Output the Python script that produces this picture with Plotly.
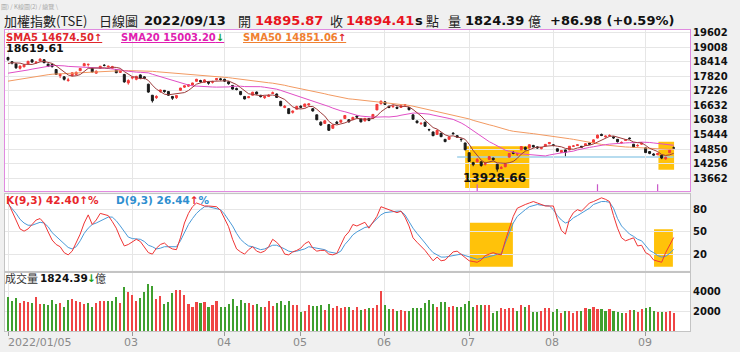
import numpy as np
import pandas as pd
import plotly.graph_objects as go

W, H = 740, 352

# ---------------- data ----------------
holidays_2022 = ["2022-01-27", "2022-01-28", "2022-01-31", "2022-02-01", "2022-02-02",
                 "2022-02-03", "2022-02-04", "2022-02-28", "2022-04-04", "2022-04-05",
                 "2022-05-02", "2022-06-03", "2022-09-09"]
tick_months = [1, 3, 4, 5, 6, 7, 8, 9]

# closes before 2022/01/05 (for moving averages)
history_close = [16900, 16987, 17000, 16930, 16999, 17100, 16990, 17050, 17100, 17180,
                 17300, 17420, 17510, 17550, 17600, 17650, 17800, 17700, 17600, 17700,
                 17800, 17450, 17370, 17430, 17540, 17600, 17720, 17690, 17750, 17800,
                 17910, 17780, 17750, 17760, 17680, 17720, 17780, 17860, 17800, 17760,
                 17700, 17780, 17900, 18000, 18100, 18200, 18220, 18270, 18526]

open_ = [18590, 18420, 18330, 18150, 18210, 18330, 18500, 18380, 18450, 18500,
         18320, 18300, 18100, 17850, 17800, 17650, 17850, 17900, 18050, 18250,
         18300, 18150, 17950, 18150, 18270, 18200, 18150, 18100, 17980, 17900,
         17550, 17750, 17700, 17880, 17800, 17500, 17050, 16950, 17200, 17250,
         17200, 17000, 16950, 17250, 17380, 17420, 17470, 17620, 17650, 17580,
         17600, 17580, 17680, 17720, 17700, 17600, 17450, 17320, 17200, 17000,
         16950, 17050, 17180, 17050, 16950, 17000, 17120, 17100, 16800, 16550,
         16500, 16350, 16480, 16600, 16580, 16650, 16500, 16250, 15950, 15900,
         15850, 15700, 15950, 15950, 16100, 16050, 16050, 16200, 16080, 16000,
         16100, 16100, 16450, 16700, 16780, 16600, 16580, 16560, 16550, 16640,
         16550, 16250, 16000, 15880, 15950, 15650, 15550, 15450, 15500, 15250,
         15250, 15500, 15400, 15250, 15100, 14700, 14300, 14330, 14330, 14230,
         14430, 14480, 14230, 14060, 14130, 14520, 14720, 14640, 14820, 14920,
         14900, 15000, 14940, 14870, 14970, 15070, 15025, 14865, 14715, 14815,
         14815, 14965, 14995, 14965, 14995, 15095, 15115, 15300, 15450, 15350,
         15400, 15350, 15250, 15100, 15200, 15300, 15050, 14980, 15050, 14900,
         14750, 14650, 14620, 14600, 14450, 14700, 14895.87]

high = [18619.61, 18440, 18350, 18270, 18310, 18450, 18510, 18430, 18560, 18520,
        18340, 18330, 18120, 17950, 17830, 17760, 17990, 18020, 18160, 18370,
        18340, 18170, 18060, 18250, 18320, 18260, 18250, 18110, 18100, 17920,
        17700, 17820, 17840, 17900, 17820, 17520, 17060, 17050, 17280, 17260,
        17210, 17020, 17060, 17350, 17450, 17500, 17560, 17720, 17680, 17700,
        17620, 17640, 17750, 17760, 17720, 17610, 17460, 17360, 17210, 17020,
        17020, 17190, 17200, 17060, 17030, 17090, 17200, 17120, 16820, 16650,
        16520, 16430, 16620, 16640, 16700, 16720, 16520, 16260, 15980, 16030,
        15870, 15850, 16000, 16050, 16240, 16060, 16170, 16230, 16090, 16120,
        16110, 16280, 16690, 16830, 16800, 16620, 16640, 16580, 16640, 16690,
        16560, 16260, 16010, 15950, 15960, 15680, 15560, 15630, 15510, 15260,
        15360, 15540, 15410, 15290, 15110, 14720, 14330, 14480, 14340, 14330,
        14560, 14500, 14240, 14160, 14270, 14680, 14760, 14690, 14970, 14950,
        15040, 15020, 14960, 14940, 15060, 15140, 15055, 14875, 14815, 14825,
        14975, 15015, 15045, 14975, 15085, 15115, 15245, 15440, 15480, 15400,
        15450, 15360, 15260, 15160, 15260, 15320, 15060, 15050, 15120, 14920,
        14760, 14680, 14700, 14610, 14540, 14820, 14950]

low = [18460, 18310, 18130, 18100, 18190, 18320, 18380, 18330, 18440, 18360,
       18200, 18180, 17880, 17750, 17650, 17600, 17820, 17880, 18040, 18240,
       18220, 17980, 17930, 18140, 18230, 18180, 18130, 17950, 17970, 17560,
       17480, 17700, 17660, 17720, 17700, 17150, 16750, 16900, 17150, 17150,
       17020, 16860, 16900, 17230, 17350, 17390, 17450, 17600, 17560, 17560,
       17480, 17530, 17660, 17650, 17590, 17480, 17280, 17250, 17050, 16880,
       16930, 17040, 17080, 16960, 16900, 16980, 17100, 16940, 16600, 16520,
       16280, 16300, 16470, 16520, 16570, 16620, 16380, 16030, 15800, 15880,
       15600, 15680, 15880, 15930, 16080, 15930, 16040, 16130, 15940, 15980,
       15990, 16090, 16440, 16680, 16650, 16520, 16540, 16480, 16530, 16600,
       16430, 16050, 15900, 15850, 15760, 15580, 15380, 15440, 15340, 15130,
       15230, 15440, 15320, 15150, 14800, 14320, 14150, 14310, 14130, 14180,
       14420, 14380, 13928.66, 14030, 14110, 14510, 14640, 14570, 14810, 14800,
       14880, 14910, 14860, 14840, 14950, 15050, 14965, 14735, 14695, 14560,
       14805, 14935, 14975, 14895, 14985, 15025, 15105, 15290, 15380, 15320,
       15360, 15270, 15120, 15080, 15180, 15240, 14900, 14950, 15030, 14690,
       14640, 14580, 14600, 14440, 14420, 14690, 14850]

close = [18500, 18368, 18170, 18239, 18288, 18437, 18403, 18403, 18525, 18378,
         18228, 18218, 17900, 17900, 17701, 17674, 17966, 17983, 18144, 18338,
         18310, 17997, 18030, 18231, 18268, 18232, 18221, 17969, 18055, 17594,
         17652, 17780, 17820, 17750, 17736, 17178, 16825, 17000, 17264, 17200,
         17050, 16926, 17036, 17343, 17434, 17480, 17550, 17700, 17600, 17676,
         17540, 17600, 17730, 17693, 17625, 17520, 17301, 17284, 17076, 16898,
         16986, 17171, 17100, 16993, 16993, 17050, 17150, 16960, 16620, 16600,
         16300, 16400, 16592, 16560, 16692, 16696, 16408, 16048, 15832, 16006,
         15616, 15832, 15901, 16027, 16223, 15963, 16144, 16156, 15963, 16104,
         16020, 16266, 16675, 16807, 16675, 16552, 16605, 16512, 16621, 16670,
         16460, 16070, 15927, 15900, 15782, 15641, 15397, 15616, 15357, 15157,
         15350, 15480, 15338, 15240, 14825, 14343, 14217, 14429, 14181, 14254,
         14544, 14420, 14030, 14094, 14251, 14671, 14680, 14670, 14954, 14839,
         15029, 14940, 14899, 14920, 15041, 15120, 14996, 14762, 14792, 14717,
         14965, 14978, 15024, 14924, 15068, 15052, 15227, 15420, 15409, 15380,
         15408, 15310, 15150, 15122, 15230, 15278, 14930, 15000, 15095, 14706,
         14673, 14606, 14675, 14483, 14512, 14807.43, 14894.41]

volume = [3470, 3070, 3340, 2810, 3070, 2970, 2840, 3470, 2740, 2740,
          2670, 3170, 2740, 2810, 2410, 3170, 3240, 3070, 2910, 2740,
          2810, 2470, 2810, 3070, 3070, 3040, 3040, 3470, 2810, 4470,
          4000, 3670, 3070, 3340, 4000, 4740, 4570, 3240, 3570, 2740,
          2970, 3870, 4140, 4140, 3670, 2740, 2470, 2910, 2810, 2970,
          2470, 2670, 3070, 2410, 2410, 2740, 3240, 2570, 3140, 2870,
          2810, 2670, 2740, 2410, 2410, 3010, 2540, 2870, 3070, 2640,
          3070, 2640, 2640, 1910, 2070, 2640, 2540, 2540, 2670, 2170,
          2740, 2340, 2510, 2340, 2470, 2470, 2140, 2410, 2170, 2270,
          2340, 2340, 2670, 4070, 2670, 2240, 2240, 2010, 2170, 2010,
          2010, 2370, 2370, 2310, 2840, 3170, 2770, 2470, 2910, 2910,
          2410, 2540, 2470, 2470, 2710, 3070, 2470, 2640, 2610, 2640,
          2640, 1840, 2070, 2310, 2210, 2340, 2340, 2010, 2670, 2470,
          2670, 1910, 1910, 2010, 2310, 2310, 1910, 2240, 1840, 2010,
          2070, 1840, 2010, 2070, 2310, 2210, 2410, 2210, 2240, 2010,
          2270, 2070, 1910, 1810, 1840, 2140, 2140, 1910, 2240, 2340,
          2410, 2010, 1910, 1910, 1910, 2010, 1824.39]

k_line = [90, 78, 64, 54, 51, 54, 60, 66, 68, 62,
          50, 39, 33, 30, 22, 19, 24, 35, 47, 62,
          73, 60, 66, 75, 74, 72, 64, 55, 42, 31,
          33, 36, 40, 37, 30, 22, 20, 28, 33, 35,
          30, 27, 26, 42, 62, 75, 84, 89, 87, 85,
          85, 84, 84, 79, 68, 57, 40, 27, 23, 20,
          26, 30, 24, 22, 24, 30, 40, 36, 30, 20,
          19, 23, 25, 28, 34, 37, 28, 24, 25, 25,
          20, 19, 21, 32, 44, 50, 60, 58, 60, 63,
          55, 63, 71, 84, 82, 80, 77, 76, 78, 70,
          58, 42, 36, 31, 25, 18, 11, 16, 11, 12,
          18, 23, 24, 20, 15, 11, 10, 9, 12, 18,
          20, 22, 20, 19, 38, 55, 71, 82, 85, 87,
          89, 91, 89, 87, 85, 85, 85, 67, 52, 47,
          67, 76, 80, 78, 84, 89, 91, 94, 96, 94,
          91, 72, 55, 42, 38, 40, 42, 31, 32, 22,
          19, 12, 10, 9, 22, 32, 42.40]

d_line = [88, 82, 75, 67, 62, 59, 59, 61, 63, 62,
          57, 49, 44, 38, 33, 29, 27, 30, 38, 48,
          55, 60, 62, 65, 68, 70, 70, 65, 58, 50,
          43, 41, 40, 40, 37, 32, 30, 27, 28, 30,
          30, 30, 30, 38, 50, 60, 68, 75, 80, 84,
          84, 83, 82, 80, 74, 66, 58, 48, 40, 35,
          31, 30, 28, 26, 27, 29, 32, 32, 30, 27,
          24, 23, 24, 25, 27, 30, 29, 28, 27, 26,
          23, 22, 21, 24, 33, 39, 46, 50, 53, 56,
          57, 62, 67, 73, 76, 77, 78, 78, 78, 73,
          64, 55, 48, 42, 35, 28, 22, 19, 16, 16,
          17, 18, 19, 20, 18, 16, 15, 13, 14, 15,
          17, 18, 20, 20, 35, 48, 62, 71, 76, 80,
          84, 85, 87, 86, 86, 85, 80, 72, 66, 62,
          64, 69, 72, 75, 78, 82, 87, 89, 91, 91,
          90, 82, 68, 58, 52, 47, 44, 40, 38, 32,
          25, 22, 18, 16, 17, 21, 26.44]

event_idx = [117, 147, 162]
support_level = 14524
support_from = 112
main_ticks = [13662, 14256, 14850, 15444, 16038, 16632, 17226, 17820, 18414, 19008, 19602]
kd_ticks = [20, 50, 80]
vol_ticks = [2000, 4000]
# highlight rectangles (x0, x1, y0, y1) in data units, per panel
main_boxes = [(114.0, 130.0, 13265, 14966), (162.2, 166.1, 14002, 15148)]
kd_boxes = [(115.2, 125.9, 3.0, 62.3), (161.1, 165.8, 3.0, 53.5)]

# ---------------- derived ----------------
n = len(close)
for arr in (open_, high, low, volume, k_line, d_line):
    assert len(arr) == n
dates = pd.bdate_range("2022-01-05", "2022-09-13", freq="C", holidays=holidays_2022)
assert len(dates) == n
xi = np.arange(n)
month_start = [i for i in range(n) if i == 0 or dates[i].month != dates[i - 1].month]
tick_idx = [i for i in month_start if dates[i].month in tick_months]
tick_txt = [dates[i].strftime("%Y/%m/%d") if i == 0 else dates[i].strftime("%m") for i in tick_idx]

full_close = pd.Series(history_close + close, dtype=float)
off = len(history_close)
sma5 = full_close.rolling(5).mean().to_numpy()[off:]
sma20 = full_close.rolling(20).mean().to_numpy()[off:]
sma50 = full_close.rolling(50).mean().to_numpy()[off:]
prev_close = full_close.shift(1).to_numpy()[off:]

C_UP = "#f23a3a"
C_DN = "#1a1a1a"
V_UP = "#ef4545"
V_DN = "#3f9f2f"
vol_colors = [V_UP if c >= p else V_DN for c, p in zip(close, prev_close)]

LATIN = "DejaVu Sans"
CJK = "Noto Sans CJK TC"
PINK = "#e08ae0"
GRAYLINE = "#c4c4c4"
GRID = "#e6e6e6"


def fx(p):
    return p / W


def fy(p):
    return 1 - p / H


X_DOM = [fx(5), fx(690)]
X_RANGE = [-0.75, 170.07]
MAIN_RANGE = [13123, 19723]
KD_RANGE = [-2.4, 100.7]
VOL_RANGE = [-30, 5870]

fig = go.Figure()
fig.add_trace(go.Candlestick(
    x=xi, open=open_, high=high, low=low, close=close,
    increasing=dict(line=dict(color=C_UP, width=1), fillcolor=C_UP),
    decreasing=dict(line=dict(color=C_DN, width=1), fillcolor=C_DN),
    whiskerwidth=0, xaxis="x", yaxis="y", hoverinfo="skip"))
for vals, col in ((sma50, "#f29a62"), (sma20, "#e04fc6"), (sma5, "#9c3c3c")):
    fig.add_trace(go.Scatter(x=xi, y=vals, mode="lines", line=dict(color=col, width=1),
                             xaxis="x", yaxis="y", hoverinfo="skip"))
fig.add_trace(go.Scatter(x=event_idx, y=[MAIN_RANGE[0] + 90] * len(event_idx), mode="markers",
                         marker=dict(symbol="line-ns-open", size=7, color="#c858c8",
                                     line=dict(width=1.2, color="#c858c8")),
                         xaxis="x", yaxis="y", hoverinfo="skip"))

fig.add_trace(go.Scatter(x=xi, y=d_line, mode="lines", line=dict(color="#4a9ad8", width=1),
                         xaxis="x2", yaxis="y2", hoverinfo="skip"))
fig.add_trace(go.Scatter(x=xi, y=k_line, mode="lines", line=dict(color="#ef3535", width=1),
                         xaxis="x2", yaxis="y2", hoverinfo="skip"))

fig.add_trace(go.Bar(x=xi, y=volume, marker=dict(color=vol_colors, line=dict(width=0)),
                     width=0.52, xaxis="x3", yaxis="y3", hoverinfo="skip"))

shapes = []
for (x0, x1, y0, y1) in main_boxes:
    shapes.append(dict(type="rect", xref="x", yref="y", x0=x0, x1=x1, y0=y0, y1=y1,
                       fillcolor="#ffc20a", line=dict(width=0), layer="below"))
for (x0, x1, y0, y1) in kd_boxes:
    shapes.append(dict(type="rect", xref="x2", yref="y2", x0=x0, x1=x1, y0=y0, y1=y1,
                       fillcolor="#ffc20a", line=dict(width=0), layer="below"))
shapes.append(dict(type="line", xref="x", yref="y", x0=support_from, x1=n - 1,
                   y0=support_level, y1=support_level,
                   line=dict(color="#9fd0ea", width=1.5), layer="below"))

ann = []


def add_text(x_px, y_px, text, size, color, family=LATIN, xanchor="left"):
    ann.append(dict(xref="paper", yref="paper", x=fx(x_px), y=fy(y_px), text=text,
                    showarrow=False, xanchor=xanchor, yanchor="middle", borderpad=0,
                    font=dict(family=family, size=size, color=color)))


RED_T = "#e8141e"
add_text(0, 4, "圖) / K線圖(2) / 總覽 \\", 6, "#a8a8a8", CJK)
add_text(3, 18, "加權指數(TSE)", 13, "#222", CJK)
add_text(98, 18, "日線圖", 13, "#222", CJK)
add_text(143, 18, "<b>2022/09/13</b>", 13, "#111")
add_text(237, 18, "開", 13, "#222", CJK)
add_text(254, 18, "<b>14895.87</b>", 13, RED_T)
add_text(329, 18, "收", 13, "#222", CJK)
add_text(345, 18, "<b>14894.41</b>", 13, RED_T)
add_text(414, 18, "<b>s</b>", 13, "#111")
add_text(425, 18, "點", 13, "#222", CJK)
add_text(447, 18, "量", 13, "#222", CJK)
add_text(464, 18, "<b>1824.39</b>", 13, "#111")
add_text(527, 18, "億", 13, "#222", CJK)
add_text(549, 18, "<b>+86.98 (+0.59%)</b>", 13, "#111")

add_text(5, 35, "<b><u>SMA5 14674.50↑</u></b>", 10, "#e0262b")
add_text(120, 35, "<b><u>SMA20 15003.20<span style='color:#18a020'>↓</span></u></b>", 10, "#e020b0")
add_text(242, 35, "<b><u>SMA50 14851.06<span style='color:#e0262b'>↑</span></u></b>", 10, "#f08030")

add_text(5, 199, "<b>K(9,3) 42.40↑%</b>", 10.5, "#e8262b")
add_text(115, 199, "<b>D(9,3) 26.44<span style='color:#e8262b'>↑</span>%</b>", 10.5, "#2f8fd0")

add_text(4, 277, "成交量", 11, "#333", CJK)
add_text(39, 277, "<b>1824.39</b>", 10.5, "#111")
add_text(86, 277, "<b>↓</b>", 10.5, "#18a020")
add_text(94, 277, "億", 11, "#333", CJK)

# price extreme labels
i_hi = int(np.argmax(high))
i_lo = int(np.argmin(low))
ann.append(dict(xref="x", yref="y", x=i_hi, y=high[i_hi], text=f"<b>{high[i_hi]:.2f}</b>",
                showarrow=False, xanchor="left", yanchor="bottom", xshift=-4, yshift=0,
                font=dict(family=LATIN, size=11, color="#111")))
ann.append(dict(xref="x", yref="y", x=i_lo, y=low[i_lo], text=f"<b>{low[i_lo]:.2f}</b>",
                showarrow=False, xanchor="center", yanchor="top", xshift=-3, yshift=3,
                font=dict(family=LATIN, size=12, color="#111")))

# x tick labels
for i, t in zip(tick_idx, tick_txt):
    ann.append(dict(xref="x3", yref="paper", x=i, y=fy(342), text=t, showarrow=False,
                    xanchor="left" if i == 0 else "center", yanchor="middle",
                    xshift=-2 if i == 0 else -1,
                    font=dict(family=LATIN, size=11, color="#8a8a8a")))

tickfont = dict(family=LATIN, size=10, color="#111", weight="bold")
common_x = dict(domain=X_DOM, range=X_RANGE, showgrid=True, gridcolor=GRID, gridwidth=1,
                tickvals=tick_idx, showticklabels=False, zeroline=False, showline=True,
                mirror=True, linewidth=1, fixedrange=True)
common_y = dict(side="right", showgrid=True, gridcolor=GRID, gridwidth=1, zeroline=False,
                showline=True, mirror=True, linewidth=1, ticks="", tickfont=tickfont,
                fixedrange=True)

fig.update_layout(
    width=W, height=H, autosize=False,
    margin=dict(l=0, r=0, t=0, b=0, pad=0),
    paper_bgcolor="#f0f0f0", plot_bgcolor="#ffffff",
    showlegend=False, hovermode=False,
    xaxis=dict(**common_x, anchor="y", linecolor=PINK, ticks="", rangeslider=dict(visible=False)),
    xaxis2=dict(**common_x, anchor="y2", matches="x", linecolor=GRAYLINE, ticks=""),
    xaxis3=dict(**common_x, anchor="y3", matches="x", linecolor=GRAYLINE, ticks="outside",
                ticklen=4, tickcolor="#9a9a9a"),
    yaxis=dict(**common_y, domain=[fy(190), fy(27)], range=MAIN_RANGE, anchor="x",
               tickvals=main_ticks, ticktext=[str(v) for v in main_ticks], linecolor=PINK),
    yaxis2=dict(**common_y, domain=[fy(270), fy(193)], range=KD_RANGE, anchor="x2",
                tickvals=kd_ticks, ticktext=[str(v) for v in kd_ticks], linecolor=GRAYLINE),
    yaxis3=dict(**common_y, domain=[fy(331), fy(272)], range=VOL_RANGE, anchor="x3",
                tickvals=vol_ticks, ticktext=[str(v) for v in vol_ticks], linecolor=GRAYLINE),
    shapes=shapes,
    annotations=ann,
    bargap=0,
)

fig.write_html("out.html")
